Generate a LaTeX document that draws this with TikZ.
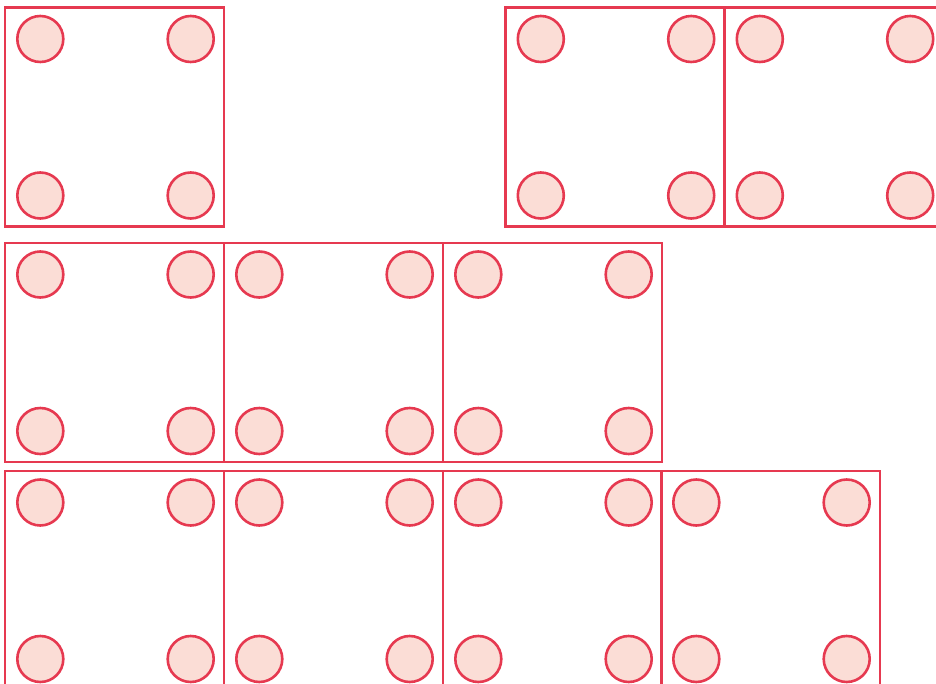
\documentclass[tikz,border=0pt]{standalone}
\definecolor{edge}{HTML}{E63950}
\definecolor{disk}{HTML}{FBDDD6}
\begin{document}
\begin{tikzpicture}[x=1pt,y=-1pt,
  cellbox/.style={draw=edge,line width=2.5pt},
  dot/.style={draw=edge,fill=disk,line width=2.6pt}]
\useasboundingbox (0,0) rectangle (936,684);
\clip (0,0) rectangle (936,684);
\foreach \x/\y in {5/7.5, 505.5/7.5, 724.5/7.5,
                   5/243, 224/243, 443/243,
                   5/471, 224/471, 443/471, 661/471}{
  \draw[cellbox] (\x,\y) rectangle ++(219,219);
  \foreach \dx in {35.3,185.7}{
    \foreach \dy in {31.5,188}{
      \draw[dot] (\x+\dx,\y+\dy) circle (23);
    }
  }
}
\end{tikzpicture}
\end{document}
